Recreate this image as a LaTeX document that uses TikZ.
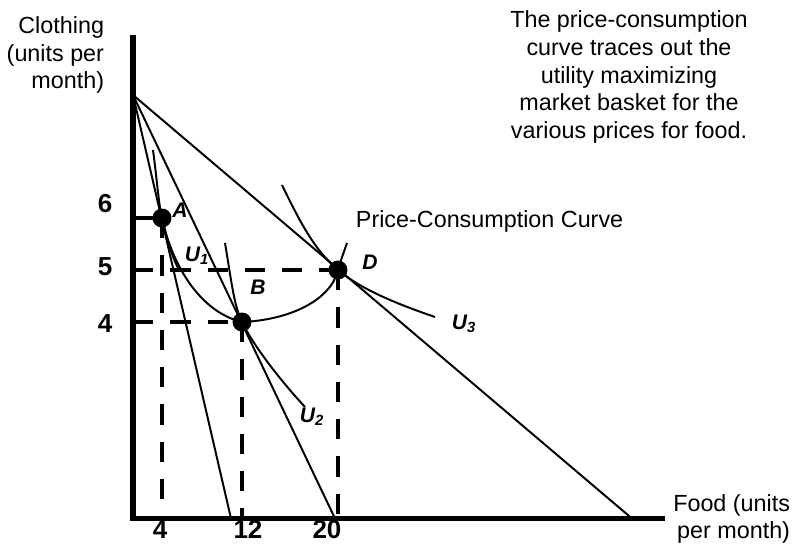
\documentclass[tikz,border=0pt]{standalone}
\usepackage{fontspec}
\setmainfont{Liberation Sans}
\usetikzlibrary{positioning}

\begin{document}
\begin{tikzpicture}[x=0.025cm,y=-0.025cm,
  axe/.style={line width=3.6pt},
  budget/.style={line width=1.4pt},
  courbe/.style={line width=1.4pt},
  repere/.style={line width=3.2pt,dash pattern=on 14.5pt off 12pt},
  pt/.style={circle,fill=black,inner sep=0pt,minimum size=13.5pt},
  grad/.style={font=\fontsize{18.5}{22}\selectfont\bfseries,anchor=base,inner sep=0pt},
  lettre/.style={font=\fontsize{15}{17}\selectfont\bfseries\itshape},
  txt/.style={font=\fontsize{16.6}{19.6}\selectfont}]
  \useasboundingbox (0,0) rectangle (797,544);

  % Reperes
  \coordinate (O) at (133,518.5);
  \coordinate (Yhaut) at (133,35);
  \coordinate (Xfin) at (665,518.5);
  \coordinate (I) at (133,95);
  \coordinate (P1) at (231,518.5);
  \coordinate (P2) at (335,518.5);
  \coordinate (P3) at (632,518.5);
  \coordinate (A) at (162,218);
  \coordinate (B) at (242,322);
  \coordinate (D) at (338,270);

  % Axe Y : Clothing
  \node[txt,align=right,anchor=east] (yLab) at (109,55) {Clothing\\(units per\\month)};
  % Axe X : Food
  \node[txt,align=right,anchor=east] (xLab) at (795,519) {Food (units\\per month)};

  % Pointilles
  \draw[repere] (O |- A) -- (A);
  \draw[repere] (O |- D) -- (D);
  \draw[repere] (O |- B) -- (B);
  \draw[repere] (A) -- (A |- O);
  \draw[repere] (B) -- (B |- O);
  \draw[repere] (D) -- (D |- O);

  % Droites de budget
  \draw[budget] (I) -- (P1);
  \draw[budget] (I) -- (P2);
  \draw[budget] (I) -- (P3);

  % Courbes d'indifference
  \draw[courbe] (153,150) .. controls (157,180) and (158.5,203) .. (A)
    .. controls (165.5,233) and (170,252) .. (178,268);
  \draw[courbe] (225,243) .. controls (232,285) and (234,305) .. (B)
    .. controls (253,345) and (280,380) .. (305,407);
  \draw[courbe] (282,185) .. controls (300,222) and (314.4,250) .. (D)
    .. controls (361.6,290) and (400,305) .. (435,317);

  % Courbe prix-consommation
  \draw[courbe] (A) .. controls (172,265) and (200,312) .. (B)
    .. controls (290,320) and (331,300) .. (D)
    .. controls (341,260) .. (347,243);

  % Axes
  \draw[axe] (Yhaut) -- (O) -- (Xfin);

  % Points
  \node[pt] (pA) at (A) {};
  \node[pt] (pB) at (B) {};
  \node[pt] (pD) at (D) {};
  \node[lettre] (lA) at (180,210) {A};
  \node[lettre] (lB) at (258,287) {B};
  \node[lettre] (lD) at (370,262) {D};
  \node[lettre] (lU1) at (197,256) {U\textsubscript{1}};
  \node[lettre] (lU2) at (312,417) {U\textsubscript{2}};
  \node[lettre] (lU3) at (464,324) {U\textsubscript{3}};

  % Graduations
  \node[grad] (g6) at (105,213) {6};
  \node[grad] (g5) at (105,276) {5};
  \node[grad] (g4) at (105,333) {4};
  \node[grad] (f4) at (160,538) {4};
  \node[grad] (f12) at (248,538) {12};
  \node[grad] (f20) at (327,538) {20};

  % Textes
  \node[txt,anchor=west] (pcc) at (351,221) {Price-Consumption Curve};
  \node[txt,align=center] (note) at (629,77) {The price-consumption\\curve traces out the\\utility maximizing\\market basket for the\\various prices for food.};
\end{tikzpicture}
\end{document}
